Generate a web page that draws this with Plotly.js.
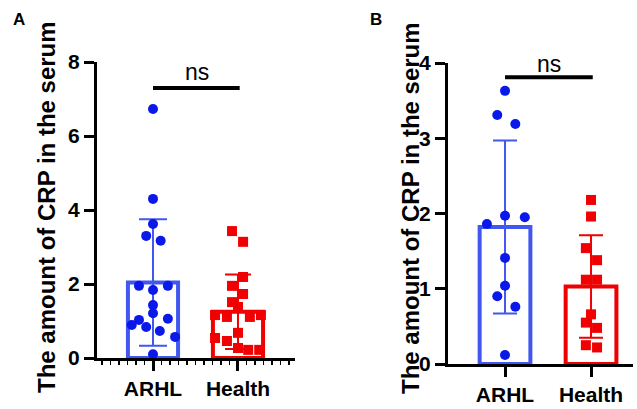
<!DOCTYPE html>
<html>
<head>
<meta charset="utf-8">
<script src="https://cdn.plot.ly/plotly-3.0.1.min.js"></script>
<style>html,body{margin:0;padding:0;background:#fff;}#chart{width:637px;height:409px;}</style>
</head>
<body>
<div id="chart"></div>
<script>
// ---- data ----
const categories = ["ARHL", "Health"];
const yTitle = "The amount of CRP in the serum";

// Panel A
const aMeans = [2.04, 1.25];
const aSD = [1.71, 1.01];
const aArhlVals = [6.73, 4.30, 3.62, 3.30, 3.17, 1.95, 1.95, 1.84, 1.43, 1.21, 1.03, 1.06, 0.89, 0.84, 0.73, 0.57, 0.10];
const aArhlJit  = [0, 0, 0, -0.08, 0.09, -0.165, 0.175, 0, 0, 0, -0.165, 0.175, -0.25, -0.08, 0.08, 0.26, 0];
const aHealthVals = [3.43, 3.14, 2.19, 1.95, 1.73, 1.51, 1.38, 1.16, 1.11, 1.11, 1.16, 0.54, 0.46, 0.68, 0.27, 0.22, 0.22];
const aHealthJit  = [-0.07, 0.06, 0.06, -0.07, 0.06, -0.07, 0, -0.27, -0.13, 0.14, 0.27, -0.27, -0.13, 0, 0, 0.12, 0.25];
const aTicks = [0, 2, 4, 6, 8];
const aSig = {x0: 0, x1: 1.02, y: 7.30, label: "ns"};

// Panel B
const bMeans = [1.82, 1.03];
const bSD = [1.15, 0.68];
const bArhlVals = [3.63, 3.31, 3.19, 1.86, 1.97, 1.95, 1.41, 1.04, 0.90, 0.76, 0.12];
const bArhlJit  = [0, -0.09, 0.12, -0.21, 0, 0.23, 0, 0, -0.09, 0.12, 0];
const bHealthVals = [2.18, 1.96, 1.54, 1.38, 1.12, 1.12, 0.66, 0.55, 0.48, 0.25, 0.22];
const bHealthJit  = [0, 0, -0.06, 0.07, -0.06, 0.07, 0, -0.06, 0.07, -0.06, 0.07];
const bTicks = [0, 1, 2, 3, 4];
const bSig = {x0: 0, x1: 1.02, y: 3.81, label: "ns"};

const panelLabels = ["A", "B"];

// ---- styles ----
const BLUE_BAR = "#4257f0";
const BLUE_PT = "#0a18ea";
const RED = "#f00000";
const FONT = "Liberation Sans, Arial, sans-serif";

function barTrace(idx, mean, sd, color, xa, ya, capw) {
  return {
    type: "bar", x: [idx], y: [mean], width: 0.59, xaxis: xa, yaxis: ya,
    marker: {color: "rgba(255,255,255,0)", line: {color: color, width: 4}},
    error_y: {type: "data", array: [sd], visible: true, color: color, thickness: 2, width: capw},
    hoverinfo: "skip", showlegend: false
  };
}
function ptTrace(center, jit, vals, color, symbol, xa, ya) {
  return {
    type: "scatter", mode: "markers",
    x: vals.map((v, i) => center + jit[i]), y: vals,
    xaxis: xa, yaxis: ya, cliponaxis: false,
    marker: {color: color, size: 10, symbol: symbol, line: {width: 0}},
    hoverinfo: "skip", showlegend: false
  };
}

const traces = [
  barTrace(0, aMeans[0], aSD[0], BLUE_BAR, "x", "y", 14),
  barTrace(1, aMeans[1], aSD[1], RED, "x", "y", 13),
  barTrace(0, bMeans[0], bSD[0], BLUE_BAR, "x2", "y2", 12),
  barTrace(1, bMeans[1], bSD[1], RED, "x2", "y2", 12),
  ptTrace(0, aArhlJit, aArhlVals, BLUE_PT, "circle", "x", "y"),
  ptTrace(1, aHealthJit, aHealthVals, RED, "square", "x", "y"),
  ptTrace(0, bArhlJit, bArhlVals, BLUE_PT, "circle", "x2", "y2"),
  ptTrace(1, bHealthJit, bHealthVals, RED, "square", "x2", "y2")
];

const W = 637, H = 409;
const tickFont = {family: FONT, size: 21, color: "#000", weight: "bold"};
const catFont = {family: FONT, size: 21, color: "#000", weight: "bold"};

function xAxis(domain, range, minor) {
  const ax = {
    domain: domain, range: range, tickmode: "array", tickvals: [0, 1], ticktext: categories,
    showline: true, linecolor: "#000", linewidth: 3, ticks: "outside", ticklen: 10, tickwidth: 3,
    tickcolor: "#000", showgrid: false, zeroline: false, tickfont: catFont, fixedrange: true
  };
  if (minor) ax.minor = {dtick: 0.1, tick0: 0, ticks: "outside", ticklen: 4, tickwidth: 1.5, tickcolor: "#000", showgrid: false};
  return ax;
}
function yAxis(domain, range, ticks, anchor) {
  return {
    domain: domain, range: range, anchor: anchor, tickmode: "array", tickvals: ticks,
    showline: true, linecolor: "#000", linewidth: 3, ticks: "outside", ticklen: 10, tickwidth: 3,
    tickcolor: "#000", showgrid: false, zeroline: false, tickfont: tickFont, fixedrange: true
  };
}

const layout = {
  width: W, height: H, margin: {l: 0, r: 0, t: 0, b: 0},
  paper_bgcolor: "#fff", plot_bgcolor: "#fff", barmode: "overlay",
  xaxis: xAxis([97 / W, 295 / W], [-0.659, 1.671], true),
  yaxis: yAxis([1 - 358 / H, 1 - 62 / H], [0, 8], aTicks, "x"),
  xaxis2: Object.assign(xAxis([448 / W, 633 / W], [-0.663, 1.488], false), {anchor: "y2"}),
  yaxis2: yAxis([1 - 364 / H, 1 - 63 / H], [0, 4], bTicks, "x2"),
  shapes: [
    {type: "line", xref: "x", yref: "y", x0: aSig.x0, x1: aSig.x1, y0: aSig.y, y1: aSig.y, line: {color: "#000", width: 4}},
    {type: "line", xref: "x2", yref: "y2", x0: bSig.x0, x1: bSig.x1, y0: bSig.y, y1: bSig.y, line: {color: "#000", width: 4}}
  ],
  annotations: [
    {text: aSig.label, xref: "paper", yref: "paper", x: 196.5 / W, y: 1 - 72 / H, xanchor: "center", yanchor: "middle", showarrow: false, font: {family: FONT, size: 23, color: "#000"}},
    {text: bSig.label, xref: "paper", yref: "paper", x: 548.5 / W, y: 1 - 64 / H, xanchor: "center", yanchor: "middle", showarrow: false, font: {family: FONT, size: 23, color: "#000"}},
    {text: yTitle, xref: "paper", yref: "paper", x: 47 / W, y: 1 - 207 / H, xanchor: "center", yanchor: "middle", textangle: -90, showarrow: false, font: {family: FONT, size: 24, color: "#000", weight: "bold"}},
    {text: yTitle, xref: "paper", yref: "paper", x: 410 / W, y: 1 - 208 / H, xanchor: "center", yanchor: "middle", textangle: -90, showarrow: false, font: {family: FONT, size: 24, color: "#000", weight: "bold"}},
    {text: panelLabels[0], xref: "paper", yref: "paper", x: 18.5 / W, y: 1 - 19 / H, xanchor: "center", yanchor: "middle", showarrow: false, font: {family: "Liberation Sans Narrow, Liberation Sans, Arial, sans-serif", size: 17, color: "#000", weight: "bold"}},
    {text: panelLabels[1], xref: "paper", yref: "paper", x: 376 / W, y: 1 - 19 / H, xanchor: "center", yanchor: "middle", showarrow: false, font: {family: "Liberation Sans Narrow, Liberation Sans, Arial, sans-serif", size: 17, color: "#000", weight: "bold"}}
  ]
};

Plotly.newPlot("chart", traces, layout, {displayModeBar: false, staticPlot: true});
</script>
</body>
</html>
